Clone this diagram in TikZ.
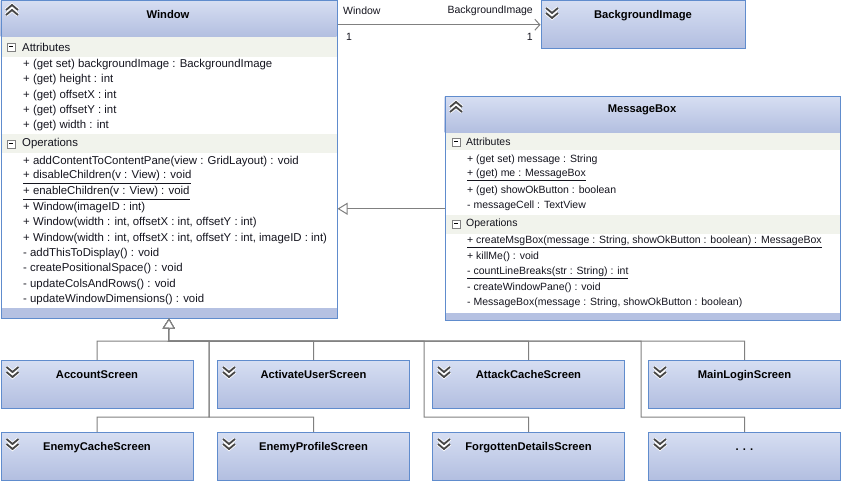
\documentclass[tikz,border=0pt]{standalone}
\usepackage{fontspec}
\setmainfont{Liberation Sans}
\usetikzlibrary{arrows.meta,positioning}

\definecolor{umlborder}{RGB}{96,140,205}
\definecolor{hdtop}{RGB}{214,222,242}
\definecolor{hdbot}{RGB}{178,190,224}
\definecolor{band}{RGB}{241,243,236}
\definecolor{footband}{RGB}{181,193,226}
\definecolor{sepline}{RGB}{185,200,230}
\definecolor{conn}{RGB}{128,128,128}
\definecolor{chev}{RGB}{70,70,70}
\definecolor{membertext}{RGB}{20,20,30}

\tikzset{
  classbox/.style={draw=umlborder, line width=1pt, anchor=north west, inner sep=0pt},
  collapsed/.style={draw=umlborder, line width=1pt, top color=hdtop, bottom color=hdbot,
    anchor=north west, minimum width=192pt, minimum height=48pt, inner sep=0pt,
    text height=8pt, text depth=20pt, font=\fontsize{11.2}{12}\selectfont\bfseries},
  title/.style={inner sep=0pt, font=\fontsize{11.2}{12}\selectfont\bfseries},
  member/.style={anchor=west, inner sep=0pt, text=membertext, font=\fontsize{11.4}{12}\selectfont},
  msgmember/.style={member, font=\fontsize{10.5}{12}\selectfont},
  inherit/.style={draw=conn, line width=1pt, -{Triangle[open, length=10pt, width=12pt, fill=white]}},
  assoc/.style={draw=conn, line width=1pt, -{Straight Barb[length=5pt, width=11pt]}},
  minusbox/.pic={
    \draw[conn, fill=white] (-4,-4) rectangle (4,4);
    \draw[line width=1pt] (-2,0) -- (2,0);
  },
  chevdown/.pic={
    \draw[white, line width=3.5pt] (-6,-1) -- (0,-6) -- (6,-1) (-6,4) -- (0,-1) -- (6,4);
    \draw[chev, line width=1.8pt] (-6,-1) -- (0,-6) -- (6,-1) (-6,4) -- (0,-1) -- (6,4);
  },
  chevup/.pic={
    \draw[white, line width=3.5pt] (-6,-4) -- (0,1) -- (6,-4) (-6,1) -- (0,6) -- (6,1);
    \draw[chev, line width=1.8pt] (-6,-4) -- (0,1) -- (6,-4) (-6,1) -- (0,6) -- (6,1);
  },
}

\begin{document}
\begin{tikzpicture}[x=1pt,y=1pt,yscale=-1,xscale=1]
\useasboundingbox (0,0) rectangle (841,481);

%Window class: header, compartments
\shade[top color=hdtop, bottom color=hdbot] (0.5,0.5) rectangle (336.5,37);
\fill[band] (0.5,37) rectangle (336.5,57);
\draw[sepline] (0.5,134) -- (336.5,134);
\fill[band] (0.5,134.5) rectangle (336.5,153);
\fill[footband] (0.5,308) rectangle (336.5,317.5);
\node[classbox, minimum width=336pt, minimum height=317pt] (win) at (0.5,0.5) {};
\pic at (12,11) {chevup};
\node[title] (wint) at (168,15) {Window};
\pic at (11,47) {minusbox};
\node[member] (wina) at (22,47) {Attributes};
\pic at (11,144) {minusbox};
\node[member] (wino) at (22,144) {Operations};

% Text Node
\node[member] at (23,65) {+ (get set) backgroundImage : BackgroundImage};
\node[member] at (23,80) {+ (get) height : int};
\node[member] at (23,96) {+ (get) offsetX : int};
\node[member] at (23,111) {+ (get) offsetY : int};
\node[member] at (23,126) {+ (get) width : int};
% Text Node
\node[member] at (23,162) {+ addContentToContentPane(view : GridLayout) : void};
\node[member] at (23,177) {\underline{+ disableChildren(v : View) : void}};
\node[member] at (23,193) {\underline{+ enableChildren(v : View) : void}};
\node[member] at (23,208) {+ Window(imageID : int)};
\node[member] at (23,223) {+ Window(width : int, offsetX : int, offsetY : int)};
\node[member] at (23,239) {+ Window(width : int, offsetX : int, offsetY : int, imageID : int)};
\node[member] at (23,254) {- addThisToDisplay() : void};
\node[member] at (23,269) {- createPositionalSpace() : void};
\node[member] at (23,285) {- updateColsAndRows() : void};
\node[member] at (23,300) {- updateWindowDimensions() : void};

%MessageBox class: header, compartments
\shade[top color=hdtop, bottom color=hdbot] (444.5,96.5) rectangle (840,133);
\fill[band] (444.5,133) rectangle (840,150);
\draw[sepline] (444.5,215) -- (840,215);
\fill[band] (444.5,215.5) rectangle (840,234);
\fill[footband] (444.5,313) rectangle (840,320);
\node[classbox, minimum width=395.5pt, minimum height=223.5pt] (msg) at (444.5,96.5) {};
\pic at (456,108) {chevup};
\node[title] (msgt) at (642,110) {MessageBox};
\pic at (456,142) {minusbox};
\node[msgmember] (msga) at (466,142) {Attributes};
\pic at (456,224) {minusbox};
\node[msgmember] (msgo) at (466,224) {Operations};

% Text Node
\node[msgmember] at (467,160) {+ (get set) message : String};
\node[msgmember] at (467,175) {\underline{+ (get) me : MessageBox}};
\node[msgmember] at (467,191) {+ (get) showOkButton : boolean};
\node[msgmember] at (467,206) {- messageCell : TextView};
% Text Node
\node[msgmember] at (467,242) {\underline{+ createMsgBox(message : String, showOkButton : boolean) : MessageBox}};
\node[msgmember] at (467,257) {+ killMe() : void};
\node[msgmember] at (467,273) {\underline{- countLineBreaks(str : String) : int}};
\node[msgmember] at (467,288) {- createWindowPane() : void};
\node[msgmember] at (467,303) {- MessageBox(message : String, showOkButton : boolean)};

%BackgroundImage
\node[collapsed, minimum width=204pt, minimum height=47.5pt] (bgi) at (540.5,0.5) {BackgroundImage};
\pic at (552,12) {chevdown};

%Subclasses
\node[collapsed] (acc) at (0.5,360) {AccountScreen};
\node[collapsed] (aus) at (217,360) {ActivateUserScreen};
\node[collapsed] (att) at (432,360) {AttackCacheScreen};
\node[collapsed] (mls) at (648,360) {MainLoginScreen};
\node[collapsed] (ecs) at (0.5,432) {EnemyCacheScreen};
\node[collapsed] (eps) at (217,432) {EnemyProfileScreen};
\node[collapsed] (fds) at (432,432) {ForgottenDetailsScreen};
\node[collapsed] (more) at (648,432) {. . .};
\pic at (12.5,371) {chevdown};
\pic at (229,371) {chevdown};
\pic at (444,371) {chevdown};
\pic at (660,371) {chevdown};
\pic at (12.5,443) {chevdown};
\pic at (229,443) {chevdown};
\pic at (444,443) {chevdown};
\pic at (660,443) {chevdown};

%Association
\draw[assoc] (bgi.west -| win.east) -- (bgi.west);
\node[msgmember] (aw) at (343,11) {Window};
\node[msgmember] (aw1) at (346,37) {1};
\node[msgmember, anchor=east] (ab) at (533,11) {BackgroundImage};
\node[msgmember, anchor=east] (ab1) at (533,37) {1};

%Generalizations
\coordinate (bus) at (168.5,341);
\coordinate (trunkA) at (209,341);
\coordinate (trunkB) at (424,341);
\coordinate (trunkC) at (641,341);
\draw[inherit] (msg.west) -- (msg.west -| win.east);
\draw[inherit] (acc.north) |- (bus) -- (win.south);
\draw[inherit] (aus.north) |- (bus) -- (win.south);
\draw[inherit] (att.north) |- (bus) -- (win.south);
\draw[inherit] (mls.north) |- (bus) -- (win.south);
\draw[inherit] (ecs.north) -- ++(0,-15) -| (trunkA) -- (bus) -- (win.south);
\draw[inherit] (eps.north) -- ++(0,-15) -| (trunkA) -- (bus) -- (win.south);
\draw[inherit] (fds.north) -- ++(0,-15) -| (trunkB) -- (bus) -- (win.south);
\draw[inherit] (more.north) -- ++(0,-15) -| (trunkC) -- (bus) -- (win.south);
\end{tikzpicture}
\end{document}
